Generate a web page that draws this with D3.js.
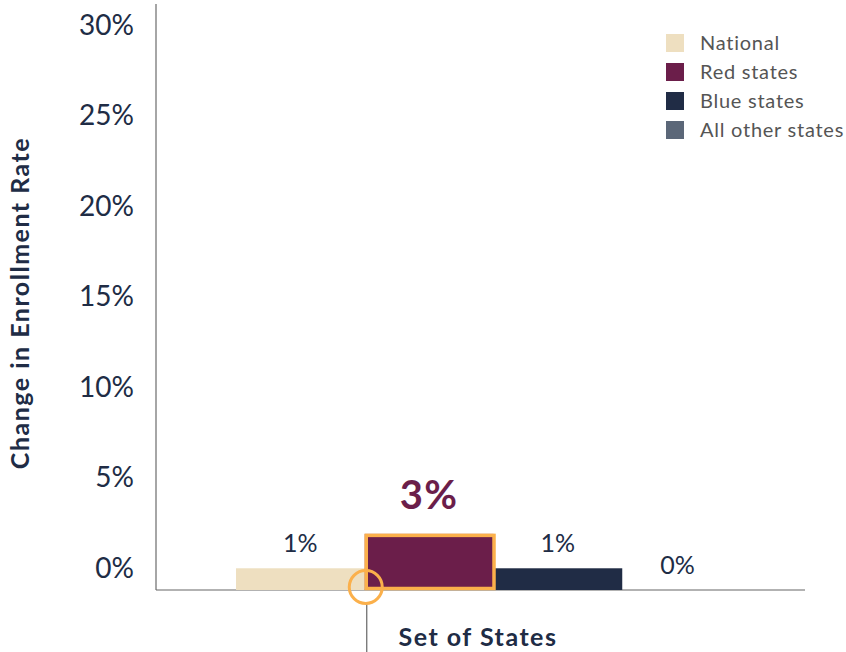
<!DOCTYPE html>
<html>
<head>
<meta charset="utf-8">
<script src="https://cdn.jsdelivr.net/npm/d3@7"></script>
<style>
  body { margin: 0; background: #fff; }
  text { font-family: Lato, "Open Sans", sans-serif; }
</style>
</head>
<body>
<script>
var categories = ["National", "Red states", "Blue states", "All other states"];
var values = [1.2, 3.1, 1.2, 0];
var valueLabels = ["1%", "3%", "1%", "0%"];
var colors = ["#eedfc0", "#6b1e4a", "#202c45", "#5b6778"];
var yTicks = [0, 5, 10, 15, 20, 25, 30];

var width = 846, height = 652;

var svg = d3.select("body")
  .append("svg")
  .attr("width", width)
  .attr("height", height);

var x = d3.scaleBand()
  .domain(categories)
  .range([236, 751])
  .padding(0);

var y = d3.scaleLinear()
  .domain([0, 30])
  .range([590, 47]);

// y tick labels (no tick marks, sit a bit above their value)
svg.append("g")
  .selectAll("text")
  .data(yTicks)
  .enter()
  .append("text")
  .attr("x", 134)
  .attr("y", d => y(d) - 22)
  .attr("dy", "0.35em")
  .attr("text-anchor", "end")
  .style("font-size", "28px")
  .style("fill", "#202c45")
  .text(d => d + "%");

// axes lines
svg.append("line")
  .attr("x1", 156).attr("x2", 156)
  .attr("y1", 4).attr("y2", y(0))
  .style("stroke", "#888").style("stroke-width", 1.5);

svg.append("line")
  .attr("x1", 156).attr("x2", 805)
  .attr("y1", y(0)).attr("y2", y(0))
  .style("stroke", "#666").style("stroke-width", 1.2);

// bars
svg.append("g")
  .selectAll("rect")
  .data(values)
  .enter()
  .append("rect")
  .attr("x", (d, i) => x(categories[i]))
  .attr("y", d => y(d))
  .attr("width", x.bandwidth())
  .attr("height", d => y(0) - y(d))
  .attr("fill", (d, i) => colors[i]);

// highlight box around red states
var hi = 1;
svg.append("rect")
  .attr("x", x(categories[hi]) + 1.5)
  .attr("y", y(values[hi]) + 1.5)
  .attr("width", x.bandwidth() - 1)
  .attr("height", y(0) - y(values[hi]) - 3)
  .attr("fill", "none")
  .style("stroke", "#fbb04b")
  .style("stroke-width", 3.5);

// value labels
svg.append("g")
  .selectAll("text")
  .data(values)
  .enter()
  .append("text")
  .attr("x", (d, i) => x(categories[i]) + x.bandwidth() / 2 + (i == 3 ? -9 : 0))
  .attr("y", (d, i) => i == hi ? y(d) - 39 : y(d) - 25)
  .attr("dy", "0.35em")
  .attr("text-anchor", "middle")
  .style("font-size", (d, i) => i == hi ? "40px" : "25px")
  .style("letter-spacing", (d, i) => i == hi ? "1.5px" : "0px")
  .style("font-weight", (d, i) => i == hi ? "bold" : "normal")
  .style("fill", (d, i) => i == hi ? "#6b1e4a" : "#202c45")
  .text((d, i) => valueLabels[i]);

// group tick line + marker circle
var tickX = x(categories[1]) + 2;
svg.append("line")
  .attr("x1", tickX).attr("x2", tickX)
  .attr("y1", 604).attr("y2", height)
  .style("stroke", "#666").style("stroke-width", 1.2);

svg.append("circle")
  .attr("cx", tickX - 1)
  .attr("cy", 587)
  .attr("r", 16.5)
  .attr("fill", "none")
  .style("stroke", "#fbb04b")
  .style("stroke-width", 3);

// axis titles
svg.append("text")
  .attr("x", 478)
  .attr("y", 637)
  .attr("dy", "0.35em")
  .attr("text-anchor", "middle")
  .style("font-size", "25px")
  .style("letter-spacing", "1.5px")
  .style("font-weight", "bold")
  .style("fill", "#202c45")
  .text("Set of States");

svg.append("text")
  .attr("transform", "translate(20,303) rotate(-90)")
  .attr("dy", "0.35em")
  .attr("text-anchor", "middle")
  .style("font-size", "25px")
  .style("letter-spacing", "1.5px")
  .style("font-weight", "bold")
  .style("fill", "#202c45")
  .text("Change in Enrollment Rate");

// legend
var legend = svg.append("g")
  .selectAll("g")
  .data(categories)
  .enter()
  .append("g")
  .attr("transform", (d, i) => "translate(666," + (43 + i * 29) + ")");

legend.append("rect")
  .attr("x", 0).attr("y", -9)
  .attr("width", 18).attr("height", 18)
  .attr("fill", (d, i) => colors[i]);

legend.append("text")
  .attr("x", 34)
  .attr("dy", "0.35em")
  .style("font-size", "20px")
  .style("letter-spacing", "0.75px")
  .style("fill", "#555")
  .text(d => d);
</script>
</body>
</html>
